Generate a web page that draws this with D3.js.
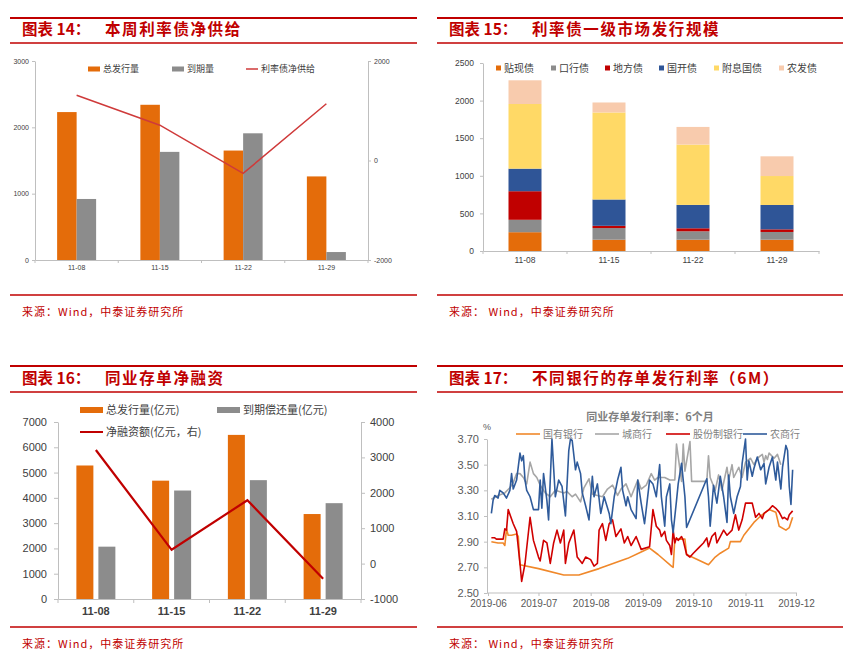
<!DOCTYPE html>
<html>
<head>
<meta charset="utf-8">
<script src="https://cdn.jsdelivr.net/npm/d3@7"></script>
<style>
  body { margin: 0; background: #fff; }
  svg { display: block; }
</style>
</head>
<body>
<svg id="chart" width="857" height="656"></svg>
<script>
// ---- data ----
var weeks = ["11-08", "11-15", "11-22", "11-29"];

// 图表14 本周利率债净供给
var p1Issue  = [2230, 2340, 1650, 1260];
var p1Mature = [920, 1630, 1910, 120];
var p1Net    = [1310, 710, -260, 1140];

// 图表15 利率债一级市场发行规模 (stack order bottom -> top)
var p2Keys      = ["贴现债", "口行债", "地方债", "国开债", "附息国债", "农发债"];
var p2Discount  = [250, 150, 150, 150];
var p2Exim      = [165, 155, 112, 103];
var p2Local     = [380, 30, 40, 35];
var p2Cdb       = [300, 350, 311, 324];
var p2Treasury  = [860, 1157, 802, 385];
var p2Adbc      = [315, 133, 235, 262];

// 图表16 同业存单净融资
var p3Issue = [5280, 4680, 6490, 3360];
var p3Repay = [2070, 4290, 4700, 3790];
var p3Net   = [3210, 390, 1790, -430];

// 图表17 不同银行的存单发行利率(6M)
var p4Months = ["2019-06", "2019-07", "2019-08", "2019-09", "2019-10", "2019-11", "2019-12"];
var p4Names  = ["国有银行", "城商行", "股份制银行", "农商行"];
var stateBank = [
  ["2019-06-03",2.90],["2019-06-07",2.89],["2019-06-10",2.89],["2019-06-11",2.87],["2019-06-12",3.00],
  ["2019-06-13",2.95],["2019-06-15",2.95],["2019-06-18",2.96],["2019-06-19",2.94],["2019-06-20",2.72],
  ["2019-07-01",2.69],["2019-07-16",2.64],["2019-07-25",2.64],["2019-08-06",2.69],["2019-08-23",2.77],
  ["2019-08-31",2.82],["2019-09-05",2.85],["2019-09-10",2.80],["2019-09-18",2.71],["2019-09-19",2.70],
  ["2019-09-20",2.92],["2019-09-26",2.92],["2019-09-27",2.80],["2019-10-10",2.72],["2019-10-14",2.78],
  ["2019-10-17",2.81],["2019-10-22",2.85],["2019-10-23",2.90],["2019-10-29",2.90],["2019-10-31",2.95],
  ["2019-11-06",3.05],["2019-11-10",3.10],["2019-11-15",3.15],["2019-11-19",3.13],["2019-11-21",3.02],
  ["2019-11-25",2.99],["2019-11-27",3.01],["2019-11-29",3.09]
];
var cityBank = [
  ["2019-06-03",3.23],["2019-06-07",3.26],["2019-06-11",3.28],["2019-06-14",3.32],["2019-06-16",3.36],
  ["2019-06-18",3.43],["2019-06-20",3.43],["2019-06-22",3.40],["2019-06-24",3.35],["2019-06-26",3.52],
  ["2019-06-28",3.43],["2019-06-30",3.40],["2019-07-02",3.34],["2019-07-05",3.28],["2019-07-08",3.25],
  ["2019-07-11",3.30],["2019-07-16",3.28],["2019-07-18",3.29],["2019-07-21",3.25],["2019-07-23",3.27],
  ["2019-07-26",3.21],["2019-07-28",3.32],["2019-07-31",3.39],["2019-08-02",3.27],["2019-08-05",3.26],
  ["2019-08-08",3.25],["2019-08-11",3.31],["2019-08-14",3.34],["2019-08-17",3.26],["2019-08-19",3.31],
  ["2019-08-22",3.35],["2019-08-25",3.25],["2019-08-29",3.38],["2019-08-31",3.31],["2019-09-03",3.34],
  ["2019-09-06",3.43],["2019-09-08",3.38],["2019-09-10",3.40],["2019-09-14",3.40],["2019-09-17",3.38],
  ["2019-09-20",3.38],["2019-09-21",3.66],["2019-09-24",3.37],["2019-09-25",3.66],["2019-09-26",3.45],
  ["2019-09-29",3.68],["2019-09-30",3.37],["2019-10-09",3.37],["2019-10-10",3.57],["2019-10-11",3.40],
  ["2019-10-14",3.30],["2019-10-16",3.42],["2019-10-18",3.30],["2019-10-21",3.48],["2019-10-22",3.38],
  ["2019-10-24",3.50],["2019-10-25",3.40],["2019-10-28",3.48],["2019-10-30",3.40],["2019-11-01",3.52],
  ["2019-11-04",3.55],["2019-11-06",3.50],["2019-11-08",3.55],["2019-11-11",3.58],["2019-11-12",3.52],
  ["2019-11-13",3.57],["2019-11-14",3.54],["2019-11-15",3.59],["2019-11-18",3.55],["2019-11-20",3.58],
  ["2019-11-22",3.50]
];
var jointBank = [
  ["2019-06-03",2.93],["2019-06-05",2.93],["2019-06-06",2.92],["2019-06-10",2.92],["2019-06-11",3.00],
  ["2019-06-12",2.99],["2019-06-13",3.15],["2019-06-16",3.04],["2019-06-18",2.98],["2019-06-20",2.73],
  ["2019-06-21",2.59],["2019-06-23",2.73],["2019-06-26",3.09],["2019-06-28",2.91],["2019-07-01",2.78],
  ["2019-07-02",2.75],["2019-07-04",2.91],["2019-07-06",2.89],["2019-07-08",2.73],["2019-07-10",2.89],
  ["2019-07-12",2.99],["2019-07-14",2.89],["2019-07-16",2.99],["2019-07-17",2.73],["2019-07-19",2.89],
  ["2019-07-22",2.99],["2019-07-24",2.78],["2019-07-27",2.73],["2019-07-29",2.78],["2019-08-01",2.76],
  ["2019-08-03",2.71],["2019-08-05",2.73],["2019-08-06",2.99],["2019-08-08",3.04],["2019-08-10",2.91],
  ["2019-08-12",3.04],["2019-08-14",3.07],["2019-08-16",2.94],["2019-08-19",3.00],["2019-08-21",2.89],
  ["2019-08-23",2.94],["2019-08-25",2.87],["2019-08-28",2.94],["2019-08-31",2.84],["2019-09-05",2.86],
  ["2019-09-07",3.15],["2019-09-09",3.02],["2019-09-11",2.99],["2019-09-12",2.94],["2019-09-14",2.98],
  ["2019-09-15",2.91],["2019-09-17",2.87],["2019-09-18",2.80],["2019-09-19",2.99],["2019-09-20",2.89],
  ["2019-09-21",2.93],["2019-09-22",2.91],["2019-09-24",2.94],["2019-09-25",2.91],["2019-09-27",2.80],
  ["2019-09-29",2.78],["2019-10-01",2.81],["2019-10-04",2.85],["2019-10-07",2.89],["2019-10-09",2.93],
  ["2019-10-10",2.86],["2019-10-12",2.94],["2019-10-14",2.97],["2019-10-15",2.89],["2019-10-17",2.94],
  ["2019-10-19",2.99],["2019-10-21",2.95],["2019-10-24",2.99],["2019-10-26",3.11],["2019-10-28",2.99],
  ["2019-10-30",3.07],["2019-11-01",3.20],["2019-11-05",3.20],["2019-11-07",3.09],["2019-11-09",3.12],
  ["2019-11-11",3.08],["2019-11-12",3.12],["2019-11-15",3.15],["2019-11-17",3.18],["2019-11-19",3.16],
  ["2019-11-21",3.13],["2019-11-23",3.08],["2019-11-24",3.09],["2019-11-26",3.07],["2019-11-27",3.11],
  ["2019-11-29",3.14]
];
var ruralBank = [
  ["2019-06-03",3.12],["2019-06-04",3.22],["2019-06-05",3.26],["2019-06-07",3.24],["2019-06-08",3.30],
  ["2019-06-10",3.28],["2019-06-12",3.24],["2019-06-14",3.30],["2019-06-15",3.43],["2019-06-16",3.31],
  ["2019-06-18",3.38],["2019-06-20",3.59],["2019-06-21",3.53],["2019-06-22",3.57],["2019-06-23",3.38],
  ["2019-06-24",3.30],["2019-06-26",3.25],["2019-06-28",3.15],["2019-07-01",3.15],["2019-07-02",3.38],
  ["2019-07-03",3.16],["2019-07-04",3.43],["2019-07-06",3.22],["2019-07-07",3.07],["2019-07-09",3.70],
  ["2019-07-11",3.25],["2019-07-13",3.38],["2019-07-15",3.33],["2019-07-17",3.10],["2019-07-19",3.61],
  ["2019-07-20",3.70],["2019-07-21",3.69],["2019-07-23",3.46],["2019-07-24",3.52],["2019-07-26",3.43],
  ["2019-07-27",3.28],["2019-07-29",3.18],["2019-07-31",3.07],["2019-08-02",3.41],["2019-08-03",3.25],
  ["2019-08-05",3.35],["2019-08-07",3.12],["2019-08-09",3.25],["2019-08-12",3.12],["2019-08-13",3.04],
  ["2019-08-15",3.25],["2019-08-17",3.38],["2019-08-19",3.48],["2019-08-20",3.30],["2019-08-22",3.18],
  ["2019-08-23",3.25],["2019-08-25",3.15],["2019-08-28",3.08],["2019-08-29",3.38],["2019-08-31",3.20],
  ["2019-09-02",3.04],["2019-09-03",3.15],["2019-09-05",3.38],["2019-09-07",3.35],["2019-09-09",3.25],
  ["2019-09-11",3.50],["2019-09-12",3.25],["2019-09-14",3.02],["2019-09-15",3.25],["2019-09-17",3.35],
  ["2019-09-18",3.07],["2019-09-19",2.97],["2019-09-21",3.22],["2019-09-22",3.35],["2019-09-24",3.51],
  ["2019-09-26",3.25],["2019-09-27",3.01],["2019-10-09",3.39],["2019-10-10",3.25],["2019-10-11",3.02],
  ["2019-10-13",3.34],["2019-10-15",3.20],["2019-10-16",3.30],["2019-10-17",3.41],["2019-10-19",3.25],
  ["2019-10-21",3.05],["2019-10-22",3.42],["2019-10-23",3.25],["2019-10-25",3.12],["2019-10-27",3.25],
  ["2019-10-29",3.33],["2019-10-30",3.51],["2019-11-01",3.70],["2019-11-02",3.38],["2019-11-03",3.53],
  ["2019-11-05",3.41],["2019-11-06",3.47],["2019-11-08",3.56],["2019-11-10",3.46],["2019-11-12",3.51],
  ["2019-11-13",3.35],["2019-11-15",3.48],["2019-11-17",3.56],["2019-11-19",3.38],["2019-11-20",3.52],
  ["2019-11-22",3.31],["2019-11-23",3.48],["2019-11-25",3.65],["2019-11-26",3.61],["2019-11-27",3.33],
  ["2019-11-28",3.19],["2019-11-29",3.46]
];

// ---- styles ----
var RED = "#c00000";
var ORANGE = "#e46c0a";
var BARGRAY = "#8c8c8c";
var AXIS = "#bfbfbf";
var TXT = "#404040";
var SANS = "'Liberation Sans', Arial, sans-serif";
var CJK = "'Noto Sans CJK SC', 'Liberation Sans', sans-serif";
var plain = function(d) { return String(d); };   // 2000, -2000 : no thousands comma, ascii minus

var svg = d3.select("#chart");
svg.append("rect").attr("width", 857).attr("height", 656).attr("fill", "#fff");

function frame(x0, x1, yTop, yMid, yBot, num, name, src) {
  var g = svg.append("g");
  [[yTop, 2], [yMid, 1.6], [yBot, 1.6]].forEach(function(l) {
    g.append("line").attr("x1", x0).attr("x2", x1).attr("y1", l[0]).attr("y2", l[0])
      .attr("stroke", RED).attr("stroke-width", l[1]);
  });
  g.append("text").attr("x", x0 + 12).attr("y", yMid - 8)
    .attr("font-family", CJK).attr("font-weight", "bold").attr("font-size", 15.5)
    .attr("fill", RED).text("图表 " + num + "：");
  g.append("text").attr("x", x0 + 95).attr("y", yMid - 8)
    .attr("font-family", CJK).attr("font-weight", "bold").attr("font-size", 15.5)
    .attr("letter-spacing", 1.6).attr("fill", RED).text(name);
  g.append("text").attr("x", x0 + 12).attr("y", yBot + 21)
    .attr("font-family", CJK).attr("font-size", 11).attr("letter-spacing", 1)
    .attr("fill", RED).text(src);
}

function styleAxis(g, size, color) {
  g.attr("font-size", size).attr("font-family", SANS);
  g.select(".domain").attr("stroke", AXIS);
  g.selectAll(".tick line").attr("stroke", AXIS);
  g.selectAll(".tick text").attr("fill", color);
  return g;
}

function bandAxis(x, y, size, pad, tick) {
  var g = svg.append("g").attr("transform", "translate(0," + y + ")")
    .call(d3.axisBottom(x).tickSize(0).tickSizeOuter(0).tickPadding(pad));
  styleAxis(g, size, TXT);
  var edges = x.domain().map(function(d) { return x(d); }).concat([x.range()[1]]);
  g.selectAll(".edge").data(edges).enter().append("line")
    .attr("x1", function(d) { return d; }).attr("x2", function(d) { return d; })
    .attr("y1", 0).attr("y2", tick).attr("stroke", AXIS);
  return g;
}

function legendRect(x, y, w, h, color, label, size) {
  svg.append("rect").attr("x", x).attr("y", y - h / 2).attr("width", w).attr("height", h).attr("fill", color);
  svg.append("text").attr("x", x + w + 3).attr("y", y).attr("dy", "0.35em")
    .attr("font-family", CJK).attr("font-size", size).attr("fill", TXT).text(label);
}

function legendLine(x, y, w, color, width, label, size, tcolor) {
  svg.append("line").attr("x1", x).attr("x2", x + w).attr("y1", y).attr("y2", y)
    .attr("stroke", color).attr("stroke-width", width);
  svg.append("text").attr("x", x + w + 3).attr("y", y).attr("dy", "0.35em")
    .attr("font-family", CJK).attr("font-size", size).attr("fill", tcolor || TXT).text(label);
}

// ================= 图表14 =================
frame(10, 417, 18, 43, 295, "14", "本周利率债净供给", "来源：Wind，中泰证券研究所");
(function() {
  var x = d3.scaleBand().domain(weeks).range([35, 368]);
  var yL = d3.scaleLinear().domain([0, 3000]).range([260, 61]);
  var yR = d3.scaleLinear().domain([-2000, 2000]).range([260, 61]);
  var bw = 19.5, c = x.bandwidth() / 2;

  styleAxis(svg.append("g").attr("transform", "translate(35,0)")
    .call(d3.axisLeft(yL).tickValues([0, 1000, 2000, 3000]).tickFormat(plain)
      .tickSize(3).tickSizeOuter(0).tickPadding(3)), 7, TXT);
  styleAxis(svg.append("g").attr("transform", "translate(368,0)")
    .call(d3.axisRight(yR).tickValues([-2000, 0, 2000]).tickFormat(plain)
      .tickSize(3).tickSizeOuter(0).tickPadding(3)), 7, TXT);

  svg.append("g").selectAll("rect").data(p1Issue).enter().append("rect")
    .attr("x", function(d, i) { return x(weeks[i]) + c - bw; }).attr("width", bw)
    .attr("y", function(d) { return yL(d); }).attr("height", function(d) { return yL(0) - yL(d); })
    .attr("fill", ORANGE);
  svg.append("g").selectAll("rect").data(p1Mature).enter().append("rect")
    .attr("x", function(d, i) { return x(weeks[i]) + c; }).attr("width", bw)
    .attr("y", function(d) { return yL(d); }).attr("height", function(d) { return yL(0) - yL(d); })
    .attr("fill", BARGRAY);
  bandAxis(x, 260, 7, 5, 3);

  svg.append("path").datum(p1Net)
    .attr("d", d3.line().x(function(d, i) { return x(weeks[i]) + c; }).y(function(d) { return yR(d); }))
    .attr("fill", "none").attr("stroke", "#cf3a3a").attr("stroke-width", 1.5);

  legendRect(88, 69, 12, 5, ORANGE, "总发行量", 9);
  legendRect(172, 69, 12, 5, BARGRAY, "到期量", 9);
  legendLine(246, 69, 12, "#cf3a3a", 1.5, "利率债净供给", 9);
})();

// ================= 图表15 =================
frame(437, 843, 18, 43, 295, "15", "利率债一级市场发行规模", "来源：  Wind，中泰证券研究所");
(function() {
  var cols = [p2Discount, p2Exim, p2Local, p2Cdb, p2Treasury, p2Adbc];
  var colors = [ORANGE, BARGRAY, RED, "#2f5597", "#ffd966", "#f8cbad"];
  var rows = weeks.map(function(w, i) {
    var r = { week: w };
    p2Keys.forEach(function(k, j) { r[k] = cols[j][i]; });
    return r;
  });
  var series = d3.stack().keys(p2Keys)(rows);
  var x = d3.scaleBand().domain(weeks).range([483, 819]);
  var y = d3.scaleLinear().domain([0, 2500]).range([251, 63]);
  var bw = 33;

  styleAxis(svg.append("g").attr("transform", "translate(483,0)")
    .call(d3.axisLeft(y).tickValues([0, 500, 1000, 1500, 2000, 2500]).tickFormat(plain)
      .tickSize(3).tickSizeOuter(0).tickPadding(6)), 8.5, TXT);

  svg.append("g").selectAll("g").data(series).enter().append("g")
    .attr("fill", function(d, i) { return colors[i]; })
    .selectAll("rect").data(function(d) { return d; }).enter().append("rect")
    .attr("x", function(d) { return x(d.data.week) + x.bandwidth() / 2 - bw / 2; })
    .attr("width", bw)
    .attr("y", function(d) { return y(d[1]); })
    .attr("height", function(d) { return y(d[0]) - y(d[1]); });
  bandAxis(x, 251, 8.5, 6, 3);

  var lx = [496, 551, 605, 659, 714, 779];
  p2Keys.forEach(function(k, i) { legendRect(lx[i], 68, 5, 5, colors[i], k, 10); });
})();

// ================= 图表16 =================
frame(10, 417, 366, 392, 627, "16", "同业存单净融资", "来源：Wind，中泰证券研究所");
(function() {
  var x = d3.scaleBand().domain(weeks).range([58, 361]);
  var yL = d3.scaleLinear().domain([0, 7000]).range([599, 422]);
  var yR = d3.scaleLinear().domain([-1000, 4000]).range([599, 422]);
  var bw = 17, gap = 5, c = x.bandwidth() / 2;

  styleAxis(svg.append("g").attr("transform", "translate(58,0)")
    .call(d3.axisLeft(yL).ticks(7).tickFormat(plain).tickSize(4).tickSizeOuter(0).tickPadding(7)), 11, TXT);
  styleAxis(svg.append("g").attr("transform", "translate(361,0)")
    .call(d3.axisRight(yR).ticks(5).tickFormat(plain).tickSize(4).tickSizeOuter(0).tickPadding(5)), 11, TXT);

  svg.append("g").selectAll("rect").data(p3Issue).enter().append("rect")
    .attr("x", function(d, i) { return x(weeks[i]) + c - gap / 2 - bw; }).attr("width", bw)
    .attr("y", function(d) { return yL(d); }).attr("height", function(d) { return yL(0) - yL(d); })
    .attr("fill", ORANGE);
  svg.append("g").selectAll("rect").data(p3Repay).enter().append("rect")
    .attr("x", function(d, i) { return x(weeks[i]) + c + gap / 2; }).attr("width", bw)
    .attr("y", function(d) { return yL(d); }).attr("height", function(d) { return yL(0) - yL(d); })
    .attr("fill", BARGRAY);
  bandAxis(x, 599, 11, 8, 4).selectAll(".tick text").attr("font-weight", "bold");

  svg.append("path").datum(p3Net)
    .attr("d", d3.line().x(function(d, i) { return x(weeks[i]) + c; }).y(function(d) { return yR(d); }))
    .attr("fill", "none").attr("stroke", RED).attr("stroke-width", 2.2);

  legendRect(80, 410, 23, 6, ORANGE, "总发行量(亿元)", 11);
  legendRect(217, 410, 23, 6, BARGRAY, "到期偿还量(亿元)", 11);
  legendLine(80, 432, 23, RED, 2, "净融资额(亿元，右)", 11);
})();

// ================= 图表17 =================
frame(437, 843, 366, 392, 627, "17", "不同银行的存单发行利率（6M）", "来源：  Wind，中泰证券研究所");
(function() {
  var parse = d3.utcParse("%Y-%m-%d");
  var months = p4Months.map(function(m) { return parse(m + "-01"); });
  var x = d3.scaleUtc().domain([months[0], months[months.length - 1]]).range([488, 796]);
  var y = d3.scaleLinear().domain([2.5, 3.7]).range([593, 439]);
  var colors = ["#f0882a", "#a6a6a6", "#d00000", "#2f5b9b"];
  var data = [stateBank, cityBank, jointBank, ruralBank];

  var ya = svg.append("g").attr("transform", "translate(487,0)")
    .call(d3.axisLeft(y).tickValues(d3.range(2.5, 3.71, 0.2)).tickFormat(d3.format(".2f"))
      .tickSize(3).tickSizeOuter(0).tickPadding(5));
  styleAxis(ya, 11, "#595959");
  var xa = svg.append("g").attr("transform", "translate(0,593)")
    .call(d3.axisBottom(x).tickValues(months).tickFormat(d3.utcFormat("%Y-%m"))
      .tickSize(3).tickSizeOuter(0).tickPadding(4));
  styleAxis(xa, 10, "#595959");
  xa.select(".domain").attr("d", "M487,0H797");

  var line = d3.line()
    .x(function(d) { return x(parse(d[0])); })
    .y(function(d) { return y(d[1]); });
  data.forEach(function(s, i) {
    svg.append("path").datum(s).attr("d", line)
      .attr("fill", "none").attr("stroke", colors[i]).attr("stroke-width", 1.6)
      .attr("stroke-linejoin", "round");
  });

  svg.append("text").attr("x", 650).attr("y", 417).attr("dy", "0.35em").attr("text-anchor", "middle")
    .attr("font-family", CJK).attr("font-weight", "bold").attr("font-size", 11).attr("fill", "#7f7f7f")
    .text("同业存单发行利率：6个月");
  svg.append("text").attr("x", 487).attr("y", 427).attr("dy", "0.35em").attr("text-anchor", "middle")
    .attr("font-family", SANS).attr("font-size", 9).attr("fill", "#595959").text("%");

  var lx = [516, 595, 666, 743];
  p4Names.forEach(function(n, i) { legendLine(lx[i], 434, 24, colors[i], 1.6, n, 10, "#7f7f7f"); });
})();
</script>
</body>
</html>
